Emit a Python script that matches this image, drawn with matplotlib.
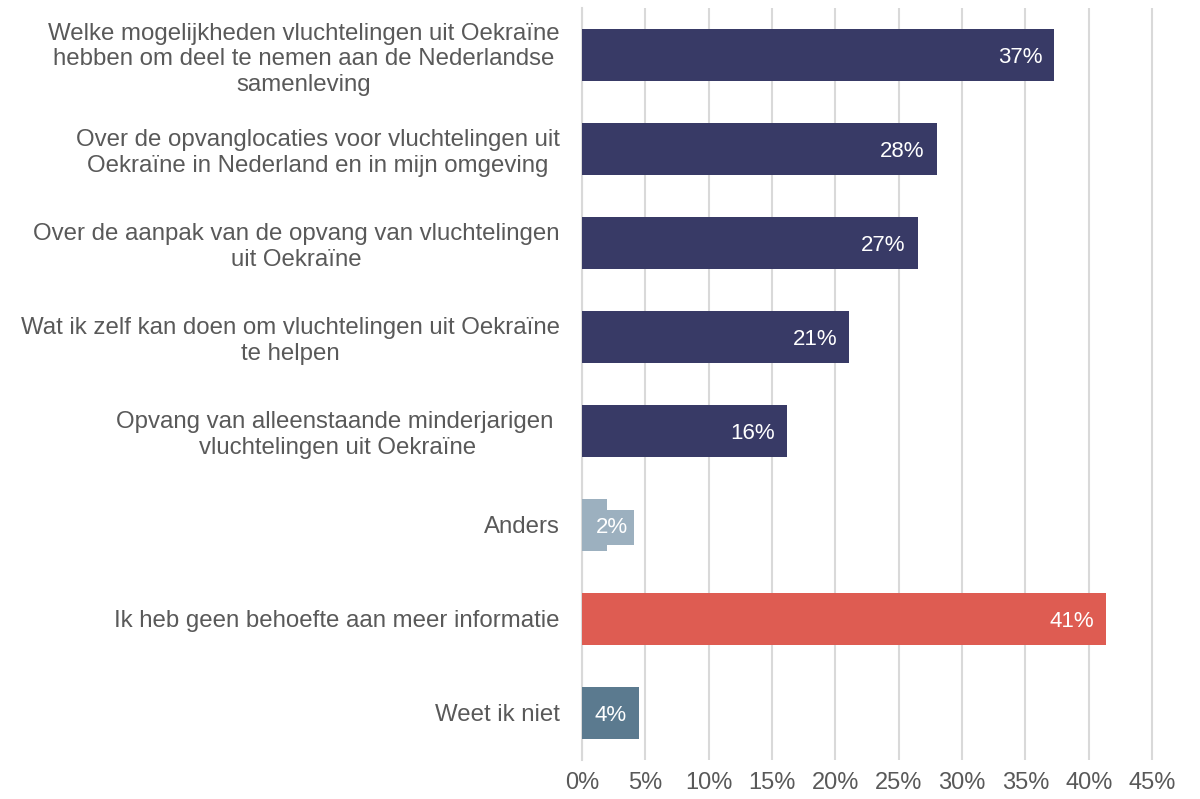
import matplotlib
matplotlib.use("Agg")
import matplotlib.pyplot as plt

plt.rcParams['font.family'] = ['Liberation Sans', 'DejaVu Sans']

categories = [
    "Welke mogelijkheden vluchtelingen uit Oekraïne\nhebben om deel te nemen aan de Nederlandse\nsamenleving",
    "Over de opvanglocaties voor vluchtelingen uit\nOekraïne in Nederland en in mijn omgeving",
    "Over de aanpak van de opvang van vluchtelingen\nuit Oekraïne",
    "Wat ik zelf kan doen om vluchtelingen uit Oekraïne\nte helpen",
    "Opvang van alleenstaande minderjarigen \nvluchtelingen uit Oekraïne",
    "Anders",
    "Ik heb geen behoefte aan meer informatie",
    "Weet ik niet",
]
values = [37.3, 28.0, 26.5, 21.1, 16.2, 2.0, 41.4, 4.5]
labels = ["37%", "28%", "27%", "21%", "16%", "2%", "41%", "4%"]
colors = ["#383A66", "#383A66", "#383A66", "#383A66", "#383A66", "#9CB0BF", "#DE5C52", "#5B7A8F"]
xticks = [0, 5, 10, 15, 20, 25, 30, 35, 40, 45]

fig = plt.figure(figsize=(12, 7.99), dpi=100)
ax = fig.add_axes([0.485, 0.049, 0.4782, 0.941])

y = list(range(len(categories)))
ax.barh(y, values, height=0.55, color=colors, zorder=3)
ax.set_ylim(len(categories) - 0.5, -0.5)
ax.set_xlim(0, 45.3)

for i, (v, lab) in enumerate(zip(values, labels)):
    if lab == "2%":
        ax.text(v + 1.6, i, lab, ha='right', va='center_baseline', color='white', fontsize=16, zorder=4,
                bbox=dict(boxstyle='square,pad=0.3', fc=colors[i], ec='none'))
    else:
        ax.text(v - 0.95, i, lab, ha='right', va='center_baseline', color='white', fontsize=16, zorder=4)

ax.set_yticks(y)
ax.set_yticklabels(categories, fontsize=17.3, color='#595959', multialignment='center')
ax.set_xticks(xticks)
ax.set_xticklabels([f"{t}%" for t in xticks], fontsize=17, color='#595959')
ax.tick_params(axis='y', length=0, pad=16)
ax.tick_params(axis='x', length=0, pad=9)
ax.grid(axis='x', color='#D9D9D9', linewidth=1.5, zorder=0)
for s in ['top', 'right', 'bottom']:
    ax.spines[s].set_visible(False)
ax.spines['left'].set_color('#D9D9D9')
ax.spines['left'].set_linewidth(1.5)

fig.savefig("out.png", dpi=100, facecolor='white')
